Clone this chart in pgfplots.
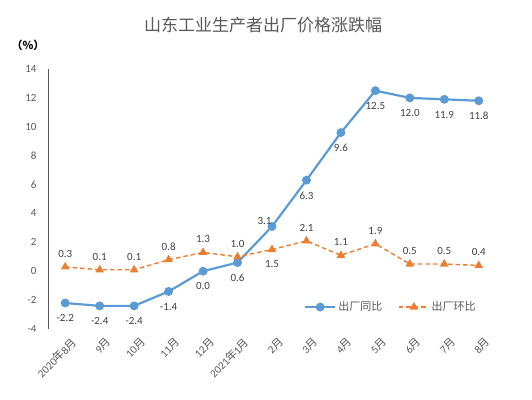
\documentclass[border=0pt]{standalone}
\usepackage{pgfplots}
\pgfplotsset{compat=1.18}
\usepackage{fontspec}
\setmainfont{Carlito}
\newfontfamily\cjk{Noto Sans CJK SC}
\definecolor{ablue}{RGB}{91,155,213}
\definecolor{aorange}{RGB}{237,125,49}
\definecolor{tgray}{RGB}{89,89,89}
\definecolor{lgray}{RGB}{64,64,64}
\begin{document}
\begin{tikzpicture}
\useasboundingbox (0,0) rectangle (532pt,399pt);
\node[text=tgray,font=\cjk\fontsize{17}{20}\selectfont] at (263pt,374pt) {山东工业生产者出厂价格涨跌幅};
\node[text=black,font=\cjk\bfseries\fontsize{11}{13}\selectfont] at (28pt,354pt) {（\%）};
\begin{axis}[
  at={(48pt,70pt)}, anchor=south west,
  width=448pt, height=260pt, scale only axis,
  xmin=-0.5, xmax=12.5, ymin=-4, ymax=14,
  ytick={-4,-2,...,14},
  xtick={0,...,12},
  xticklabels={2020{\cjk 年}8{\cjk 月},9{\cjk 月},10{\cjk 月},11{\cjk 月},12{\cjk 月},2021{\cjk 年}1{\cjk 月},2{\cjk 月},3{\cjk 月},4{\cjk 月},5{\cjk 月},6{\cjk 月},7{\cjk 月},8{\cjk 月}},
  axis lines=left,
  axis line style={-},
  x axis line style={draw=none},
  y axis line style={draw=tgray, line width=0.8pt},
  major tick length=0pt,
  /pgf/number format/assume math mode=true,
  yticklabel style={font=\fontsize{11}{13}\selectfont, text=tgray, xshift=-8pt},
  xticklabel style={font=\fontsize{11}{13}\selectfont, text=tgray, rotate=45, anchor=north east, xshift=2pt, yshift=-6pt},
  clip=false,
  legend style={at={(axis cs:9.45,-2.48)}, anchor=center, draw=none, fill=none,
     font=\cjk\fontsize{11}{13}\selectfont, text=tgray,
     /tikz/every even column/.append style={column sep=14pt}},
  legend columns=2,
  legend image code/.code={\draw[mark repeat=2,mark phase=2,#1] plot coordinates {(0pt,0pt)(15pt,0pt)(30pt,0pt)};},
  nodes near coords style={font=\fontsize{11}{13}\selectfont, text=lgray,
     /pgf/number format/fixed, /pgf/number format/precision=1, /pgf/number format/fixed zerofill, /pgf/number format/assume math mode=true},
]
\addplot[ablue, line width=2.2pt, mark=*, mark size=3.3pt, mark options={solid, fill=ablue, draw=ablue}]
 coordinates {(0,-2.2)(1,-2.4)(2,-2.4)(3,-1.4)(4,0.0)(5,0.6)(6,3.1)(7,6.3)(8,9.6)(9,12.5)(10,12.0)(11,11.9)(12,11.8)};
\addlegendentry{出厂同比}
\addplot[aorange, line width=1.4pt, dash pattern=on 4.5pt off 3pt, mark=triangle*, mark size=3.6pt, mark options={solid, fill=aorange, draw=aorange}]
 coordinates {(0,0.3)(1,0.1)(2,0.1)(3,0.8)(4,1.3)(5,1.0)(6,1.5)(7,2.1)(8,1.1)(9,1.9)(10,0.5)(11,0.5)(12,0.4)};
\addlegendentry{出厂环比}
% labels
\addplot[draw=none, forget plot, nodes near coords, point meta=y, nodes near coords align={below}, every node near coord/.append style={yshift=-8pt}]
 coordinates {(0,-2.2)(1,-2.4)(2,-2.4)(3,-1.4)(4,0.0)(5,0.6)(7,6.3)(8,9.6)(9,12.5)(10,12.0)(11,11.9)(12,11.8)};
\addplot[draw=none, forget plot, nodes near coords, point meta=y, every node near coord/.append style={anchor=south east, xshift=3pt, yshift=-2pt}]
 coordinates {(6,3.1)};
\addplot[draw=none, forget plot, nodes near coords, point meta=y, nodes near coords align={above}, every node near coord/.append style={yshift=6pt}]
 coordinates {(0,0.3)(1,0.1)(2,0.1)(3,0.8)(4,1.3)(5,1.0)(7,2.1)(8,1.1)(9,1.9)(10,0.5)(11,0.5)(12,0.4)};
\addplot[draw=none, forget plot, nodes near coords, point meta=y, nodes near coords align={below}, every node near coord/.append style={yshift=-7pt}]
 coordinates {(6,1.5)};
\end{axis}
\end{tikzpicture}
\end{document}
